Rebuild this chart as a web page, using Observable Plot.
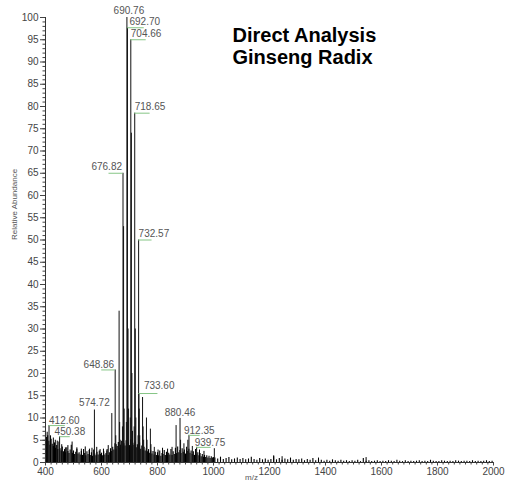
<!DOCTYPE html>
<html><head><meta charset="utf-8">
<script src="https://cdn.jsdelivr.net/npm/d3@7"></script>
<script src="https://cdn.jsdelivr.net/npm/@observablehq/plot@0.6"></script>
<style>
html,body{margin:0;padding:0;background:#fff;}
#chart svg{display:block;}
</style>
</head><body><div id="chart"></div>
<script>
// ---- data ----
const peakMz = [412.60, 450.38, 574.72, 636.8, 648.86, 650.9, 652.8, 660.8, 662.84, 664.8, 666.8, 674.8, 676.82, 678.83, 680.8, 688.8, 690.76, 692.70, 694.7, 696.7, 702.7, 704.66, 706.67, 708.7, 710.7, 716.6, 718.65, 720.6, 722.6, 730.6, 732.57, 733.60, 734.6, 736.6, 746.6, 748.6, 750.6, 760.6, 762.6, 774.6, 776.6, 788.6, 866.4, 880.46, 882.4, 894.4, 908.4, 912.35, 924.4, 939.75, 1003.0];
const peakInt = [8.3, 5.8, 11.8, 11, 20.8, 6, 4, 4.5, 34, 9, 5, 8, 65, 53, 12, 9, 100, 97.7, 30, 12, 10, 95, 74, 20, 7, 8, 78.5, 30, 10, 6, 50, 15.5, 12, 6, 14.6, 8, 5, 10, 5, 7.5, 4, 3.4, 8.3, 9.9, 5, 4.2, 5, 6.1, 3.6, 3.4, 3.1];

const spikeMz = [406, 418, 428, 435, 442, 458, 471, 480, 495, 512, 528, 542, 557, 566, 583, 595, 607, 619, 624, 802, 818, 836, 852, 950, 966, 1215, 1245, 1375, 1545];
const spikeInt = [6.8, 6.0, 5.5, 5.0, 4.8, 4.0, 3.3, 3.8, 4.6, 3.3, 3.0, 3.5, 3.0, 3.2, 3.4, 2.9, 3.0, 2.6, 3.8, 2.8, 3.2, 3.0, 3.4, 2.8, 2.5, 1.5, 1.3, 1.0, 1.1];

const noiseMz = [
 400,404,408,412,416,420,424,428,432,436,
 440,444,448,452,456,460,464,468,472,476,
 480,484,488,492,496,500,504,508,512,516,
 520,524,528,532,536,540,544,548,552,556,
 560,564,568,572,576,580,584,588,592,596,
 600,604,608,612,616,620,624,628,632,636,
 640,644,648,652,656,660,664,668,672,676,
 680,684,688,692,696,700,704,708,712,716,
 720,724,728,732,736,740,744,748,752,756,
 760,764,768,772,776,780,784,788,792,796,
 800,804,808,812,816,820,824,828,832,836,
 840,844,848,852,856,860,864,868,872,876,
 880,884,888,892,896,900,904,908,912,916,
 920,924,928,932,936,940,944,948,952,956,
 960,964,968,972,976,980,984,988,992,996,
 1000,
 1005,1015,1025,1035,1045,1055,1065,1075,1085,1095,
 1105,1115,1125,1135,1145,1155,1165,1175,1185,1195,
 1205,1215,1225,1235,1245,1255,1265,1275,1285,1295,
 1305,1315,1325,1335,1345,1355,1365,1375,1385,1395,
 1405,1415,1425,1435,1445,1455,1465,1475,1485,1495,
 1505,1515,1525,1535,1545,1555,1565,1575,1585,1595,
 1605,1615,1625,1635,1645,1655,1665,1675,1685,1695,
 1705,1715,1725,1735,1745,1755,1765,1775,1785,1795,
 1805,1815,1825,1835,1845,1855,1865,1875,1885,1895,
 1905,1915,1925,1935,1945,1955,1965,1975,1985,1995
];
const noiseInt = [
 6.5,5.6,6.0,4.8,3.9,5.2,4.1,3.6,4.4,3.2,
 3.8,2.9,4.6,3.1,2.6,3.5,2.4,2.9,2.2,3.3,
 2.5,2.0,2.8,3.9,2.1,2.6,1.8,2.3,3.0,1.9,
 2.2,1.7,2.5,1.6,2.9,2.0,1.5,2.4,1.8,2.7,
 1.6,2.2,1.4,2.8,1.9,1.5,2.3,1.7,2.6,1.8,
 2.1,1.5,2.4,1.7,2.0,2.9,1.6,2.2,3.1,2.5,
 3.4,2.8,4.2,3.0,3.6,4.5,3.2,3.9,4.8,3.5,
 4.2,3.7,4.9,3.4,4.4,3.8,5.1,3.6,4.3,3.9,
 4.6,3.3,4.0,3.5,4.4,3.0,3.7,2.8,3.4,2.6,
 3.1,2.4,2.9,2.1,2.6,1.9,2.5,1.7,2.3,1.6,
 2.2,1.5,2.6,1.4,2.0,1.8,2.7,1.6,2.3,1.5,
 2.1,1.7,2.9,1.6,2.4,1.8,3.2,2.0,3.5,2.2,
 2.7,2.0,3.1,2.3,2.8,1.9,3.4,2.5,3.0,2.1,
 2.6,1.8,2.4,1.6,2.9,1.7,2.2,1.5,2.0,1.3,
 1.8,1.2,1.6,1.1,1.5,1.0,1.4,0.9,1.3,1.0,
 1.1,
 1.0,0.8,1.2,0.7,0.9,1.1,0.6,0.8,1.0,0.7,
 0.9,0.6,0.8,1.2,0.7,0.5,0.9,0.6,0.8,0.5,
 0.7,1.3,0.6,0.9,0.5,0.8,0.6,1.0,0.5,0.7,
 0.6,0.8,0.4,0.7,0.5,0.9,0.4,0.6,0.5,0.3,
 0.5,0.3,0.6,0.4,0.3,0.5,0.3,0.4,0.2,0.4,
 0.3,0.5,0.2,0.9,0.3,0.4,0.2,0.3,0.4,0.2,
 0.3,0.2,0.4,0.3,0.2,0.5,0.3,0.2,0.4,0.2,
 0.3,0.2,0.3,0.4,0.2,0.3,0.2,0.5,0.3,0.2,
 0.2,0.4,0.3,0.2,0.3,0.2,0.4,0.3,0.2,0.3,
 0.3,0.2,0.4,0.2,0.3,0.2,0.3,0.4,0.2,0.3
];

const labelMz = [690.76, 692.70, 704.66, 718.65, 676.82, 732.57, 648.86, 733.60, 574.72, 880.46, 412.60, 450.38, 912.35, 939.75];
const labelText = ["690.76", "692.70", "704.66", "718.65", "676.82", "732.57", "648.86", "733.60", "574.72", "880.46", "412.60", "450.38", "912.35", "939.75"];

const xTicks = [400, 600, 800, 1000, 1200, 1400, 1600, 1800, 2000];
const yTicks = [0, 5, 10, 15, 20, 25, 30, 35, 40, 45, 50, 55, 60, 65, 70, 75, 80, 85, 90, 95, 100];
const titleLines = ["Direct Analysis", "Ginseng Radix"];
const xLabel = "m/z";
const yLabel = "Relative Abundance";

// ---- styles for labels (placement only) ----
const labelStyle = {
  "690.76": {anchor: "middle", dx: 2, dy: -7, side: 0, len: 0},
  "692.70": {anchor: "start", dx: 2, dy: -6, side: 1, len: 60},
  "704.66": {anchor: "start", dx: 0, dy: -6, side: 1, len: 55},
  "718.65": {anchor: "start", dx: 0, dy: -6, side: 1, len: 55},
  "732.57": {anchor: "start", dx: 0, dy: -6, side: 1, len: 48},
  "733.60": {anchor: "start", dx: 5, dy: -8, side: 1, len: 68},
  "676.82": {anchor: "end", dx: -1, dy: -6, side: -1, len: 50},
  "648.86": {anchor: "end", dx: -1, dy: -5, side: -1, len: 48},
  "574.72": {anchor: "middle", dx: 0, dy: -7, side: 0, len: 0},
  "880.46": {anchor: "middle", dx: 0, dy: -6, side: 0, len: 0},
  "412.60": {anchor: "start", dx: 0, dy: -5, side: 1, len: 58},
  "450.38": {anchor: "start", dx: -5, dy: -5, side: 1, len: 38},
  "912.35": {anchor: "start", dx: -5, dy: -5, side: 1, len: 40},
  "939.75": {anchor: "start", dx: -2, dy: -5, side: 1, len: 52}
};

// ---- build tables ----
const peaks = peakMz.map((mz, i) => ({mz, int: peakInt[i]}));
const spikes = spikeMz.map((mz, i) => ({mz, int: spikeInt[i]}));
const noise = noiseMz.map((mz, i) => ({mz, int: noiseInt[i]}));
const labels = labelMz.map((mz, i) => ({mz, int: peakInt[peakMz.indexOf(mz)], t: labelText[i]}));

const xMinor = d3.range(400, 2001, 20);
const yMinor = d3.range(0, 101, 1);

const labelMarks = labels.flatMap(d => {
  const s = labelStyle[d.t];
  const m = [];
  if (s.side) {
    m.push(Plot.ruleY([d], {y: "int", x1: "mz", x2: e => e.mz + s.side * s.len, stroke: "#86c686", strokeWidth: 1}));
  }
  m.push(Plot.text([d], {x: "mz", y: "int", text: "t", textAnchor: s.anchor, lineAnchor: "middle",
    dx: s.dx, dy: s.dy, fill: "#555", fontSize: 10}));
  return m;
});

const chart = Plot.plot({
  width: 505,
  height: 482,
  marginLeft: 45,
  marginRight: 12,
  marginTop: 17,
  marginBottom: 20,
  style: {fontFamily: "'Liberation Sans', Arial, sans-serif", color: "#444", background: "#fff"},
  x: {domain: [400, 2000]},
  y: {domain: [0, 100]},
  marks: [
    Plot.axisY({ticks: yMinor, tickSize: 2.5, tickFormat: () => "", label: null}),
    Plot.axisY({ticks: yTicks, tickSize: 5, tickPadding: 2, fontSize: 10, label: null, tickFormat: d3.format("d")}),
    Plot.axisX({ticks: xMinor, tickSize: 2.5, tickFormat: () => "", label: null}),
    Plot.axisX({ticks: xTicks, tickSize: 3.5, tickPadding: 2, fontSize: 10, label: null, tickFormat: d3.format("d")}),
    Plot.ruleX(noise, {x: "mz", y1: 0, y2: "int", stroke: "#000", strokeWidth: 1.1}),
    Plot.ruleX(spikes, {x: "mz", y1: 0, y2: "int", stroke: "#000", strokeWidth: 1}),
    Plot.ruleX(peaks, {x: "mz", y1: 0, y2: "int", stroke: "#111", strokeWidth: 1}),
    Plot.ruleX([400], {stroke: "#333"}),
    Plot.ruleY([0], {stroke: "#333"}),
    ...labelMarks,
    Plot.text([yLabel], {frameAnchor: "left", rotate: -90, dx: -31, fontSize: 8, fill: "#555"}),
    Plot.text([xLabel], {frameAnchor: "bottom", lineAnchor: "top", dx: -18, dy: 12, fontSize: 8, fill: "#555"}),
    Plot.text([titleLines.join("\n")], {frameAnchor: "top-left", dx: 187, dy: 9, lineAnchor: "top", lineHeight: 1.1,
      fontSize: 20, fontWeight: "bold", fill: "#000", textAnchor: "start"})
  ]
});
document.getElementById("chart").appendChild(chart);
</script>
</body></html>
